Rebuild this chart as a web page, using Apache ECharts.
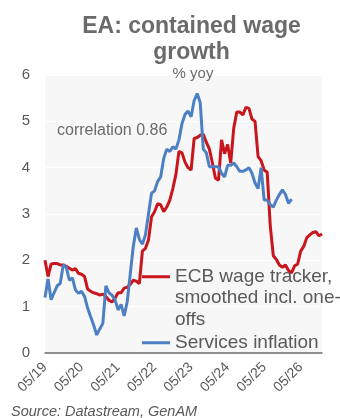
<!DOCTYPE html>
<html>
<head>
<meta charset="utf-8">
<script src="https://cdn.jsdelivr.net/npm/echarts@6/dist/echarts.min.js"></script>
<style>
  html, body { margin: 0; padding: 0; background: #ffffff; }
  #chart { width: 340px; height: 418px; }
</style>
</head>
<body>
<div id="chart"></div>
<script>
// Monthly categories, May 2019 to Dec 2026
const months = [];
for (let y = 2019; y <= 2026; y++) {
  for (let m = (y === 2019 ? 5 : 1); m <= 12; m++) {
    months.push(String(m).padStart(2, '0') + '/' + String(y).slice(2));
  }
}

// Axis labels shown every May
const tickLabels = ['05/19', '05/20', '05/21', '05/22', '05/23', '05/24', '05/25', '05/26'];

const wageName = 'ECB wage tracker,\nsmoothed incl. one-\noffs';
const servicesName = 'Services inflation';

// ECB wage tracker, smoothed incl. one-offs (% yoy)
const wageTracker = [
  2.0, 1.65, 1.92, 1.93, 1.93, 1.9, 1.9, 1.87, 1.83, 1.79, 1.82, 1.72,
  1.7, 1.65, 1.38, 1.33, 1.3, 1.28, 1.25, 1.27, 1.22, 1.14, 1.1, 1.18,
  1.3, 1.3, 1.4, 1.42, 1.48, 1.57, 1.55, 1.5, 2.2, 2.26, 2.44, 2.94,
  3.05, 3.22, 3.2, 3.05, 3.15, 3.3, 3.55, 3.85, 4.35, 4.32, 4.12, 4.0,
  3.95, 4.63, 4.65, 4.7, 4.72, 4.55, 4.4, 4.1, 3.77, 3.73, 4.6, 4.3,
  4.5, 4.1, 4.85, 5.2, 5.2, 5.14, 5.3, 5.28, 5.05, 5.0, 4.24, 4.15,
  3.95, 3.9, 2.75, 2.1, 2.02, 1.9, 1.85, 1.9, 1.78, 1.73, 1.88, 1.92,
  2.2, 2.3, 2.49, 2.55, 2.6, 2.62, 2.53, 2.57
];

// Services HICP inflation (% yoy)
const servicesInflation = [
  1.2, 1.6, 1.15, 1.3, 1.45, 1.5, 1.9, 1.85, 1.57, 1.62, 1.36, 1.29,
  1.33, 1.22, 0.97, 0.78, 0.6, 0.39, 0.52, 0.64, 1.45, 1.3, 1.25, 1.15,
  0.93, 1.05, 0.8, 1.1, 1.7, 2.3, 2.7, 2.45, 2.35, 2.55, 3.0, 3.45,
  3.5, 3.7, 3.8, 4.2, 4.4, 4.35, 4.45, 4.4, 4.6, 4.95, 5.15, 5.22,
  5.1, 5.45, 5.6, 5.4, 4.4, 4.32, 4.02, 4.02, 4.02, 4.02, 3.88, 3.8,
  4.05, 4.05, 4.1, 4.02, 3.92, 3.92, 3.95, 4.0, 3.88, 3.67, 3.55, 4.0,
  3.3, 3.3, 3.2, 3.15, 3.3, 3.42, 3.52, 3.42, 3.23, 3.32
];

const FONT = '"Liberation Sans", Arial, sans-serif';
const TEXT = '#595959';
const RED = '#C8161D';
const BLUE = '#4D80C2';

const chart = echarts.init(document.getElementById('chart'), null, { renderer: 'canvas' });

chart.setOption({
  backgroundColor: '#ffffff',
  animation: false,
  textStyle: { fontFamily: FONT },
  grid: {
    left: 45, right: 18, top: 75, bottom: 65,
    show: true, backgroundColor: '#f7f7f7', borderWidth: 0
  },
  xAxis: {
    type: 'category',
    data: months,
    boundaryGap: false,
    axisLine: { lineStyle: { color: '#6b6b6b', width: 1.5 } },
    axisTick: { show: false },
    splitLine: { show: false },
    axisLabel: {
      interval: 0,
      rotate: 45,
      margin: 12,
      fontSize: 14,
      color: TEXT,
      fontFamily: FONT,
      formatter: function (v) { return tickLabels.indexOf(v) >= 0 ? v : ''; }
    }
  },
  yAxis: {
    type: 'value',
    min: 0, max: 6, interval: 1,
    axisLine: { show: false },
    axisTick: { show: false },
    splitLine: { lineStyle: { color: '#ffffff', width: 1 } },
    axisLabel: { fontSize: 15, color: TEXT, margin: 15, fontFamily: FONT }
  },
  legend: {
    orient: 'vertical',
    left: 142,
    top: 223,
    padding: 0,
    itemGap: 1.5,
    itemWidth: 28,
    itemHeight: 3,
    icon: 'rect',
    selectedMode: false,
    textStyle: { fontSize: 19, lineHeight: 21.5, color: TEXT, fontFamily: FONT },
    // two blank leading lines keep the first text line level with the key line
    formatter: function (name) { return name === wageName ? '\n\n' + name : name; },
    data: [wageName, servicesName]
  },
  series: [
    {
      name: wageName,
      type: 'line',
      data: wageTracker,
      showSymbol: false,
      color: RED,
      lineStyle: { color: RED, width: 3 },
      z: 2
    },
    {
      name: servicesName,
      type: 'line',
      data: servicesInflation,
      showSymbol: false,
      color: BLUE,
      lineStyle: { color: BLUE, width: 3 },
      z: 3
    }
  ],
  graphic: [
    {
      type: 'text', x: 191.5, y: 40, z: 100,
      style: {
        text: 'EA: contained wage\ngrowth',
        fontSize: 23, fontWeight: 'bold', fontFamily: FONT,
        lineHeight: 26, fill: '#6b6b6b',
        align: 'center', verticalAlign: 'middle'
      }
    },
    {
      type: 'text', x: 193, y: 74, z: 100,
      style: {
        text: '% yoy', fontSize: 15, fontFamily: FONT, fill: '#6b6b6b',
        align: 'center', verticalAlign: 'middle'
      }
    },
    {
      type: 'text', x: 57, y: 131, z: 100,
      style: {
        text: 'correlation 0.86', fontSize: 16, fontFamily: FONT, fill: '#6b6b6b',
        align: 'left', verticalAlign: 'middle'
      }
    },
    {
      type: 'text', x: 11, y: 412, z: 100,
      style: {
        text: 'Source: Datastream, GenAM', fontSize: 14.5, fontStyle: 'italic',
        fontFamily: FONT, fill: TEXT, align: 'left', verticalAlign: 'middle'
      }
    }
  ]
});
</script>
</body>
</html>
